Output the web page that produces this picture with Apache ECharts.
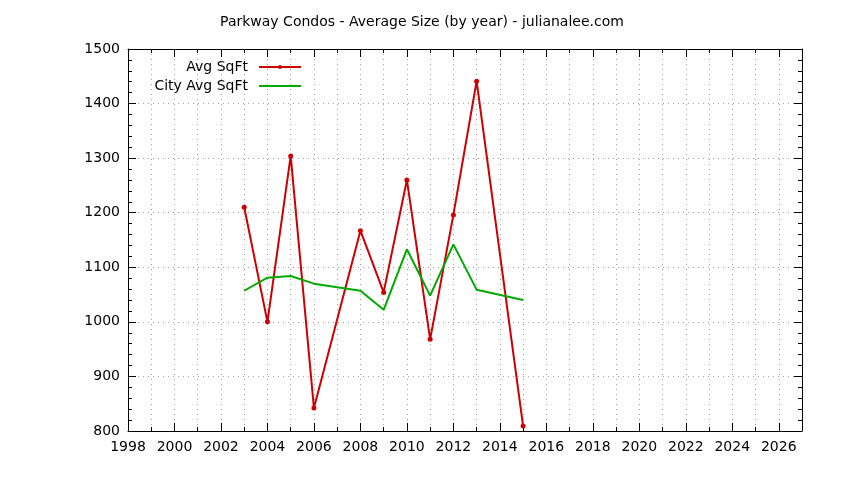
<!DOCTYPE html>
<html>
<head>
<meta charset="utf-8">
<script src="https://cdn.jsdelivr.net/npm/echarts@6/dist/echarts.min.js"></script>
<style>html,body{margin:0;padding:0;background:#fff}#c{width:844px;height:480px}</style>
</head>
<body>
<div id="c"></div>
<script>
var years = [2003, 2004, 2005, 2006, 2008, 2009, 2010, 2011, 2012, 2013, 2015];
var avgSqFt = [1210, 1000, 1304, 842, 1167, 1054, 1260, 968, 1196, 1441, 809];
var cityAvgSqFt = [1057, 1081, 1084, 1070, 1057, 1022, 1133, 1048, 1142, 1059, 1040];
var titleText = 'Parkway Condos - Average Size (by year) - julianalee.com';
var seriesNames = ['Avg SqFt', 'City Avg SqFt'];

function pairs(xs, ys) { return xs.map(function (x, i) { return [x, ys[i]]; }); }

var font = 'DejaVu Sans';
var gridDot = { show: true, lineStyle: { color: '#a0a0a0', type: [1, 4], width: 1 } };
var legendText = { fontFamily: font, fontSize: 14, color: '#000', padding: [0, 6, 0, 0] };
var chart = echarts.init(document.getElementById('c'), null, { renderer: 'canvas' });
chart.setOption({
  animation: false,
  backgroundColor: '#fff',
  title: { text: titleText, left: 'center', top: 10, textStyle: { fontFamily: font, fontSize: 14, fontWeight: 'normal', color: '#000' } },
  legend: [
    { data: [seriesNames[0]], orient: 'vertical', align: 'right', right: 537, top: 55, itemWidth: 42, itemHeight: 5,
      textStyle: legendText },
    { data: [seriesNames[1]], orient: 'vertical', align: 'right', right: 537, top: 74, itemWidth: 42, itemHeight: 10,
      itemStyle: { opacity: 0 }, textStyle: legendText }
  ],
  grid: { left: 128, right: 42, top: 49, bottom: 49, containLabel: false },
  xAxis: [
    { type: 'value', min: 1998, max: 2027, interval: 2, position: 'bottom',
      axisLine: { show: true, lineStyle: { color: '#000', width: 1 } },
      axisTick: { show: true, inside: true, length: 8, lineStyle: { color: '#000' } },
      minorTick: { show: true, splitNumber: 2, length: 4, lineStyle: { color: '#000' } },
      splitLine: gridDot, minorSplitLine: gridDot,
      axisLabel: { fontFamily: font, fontSize: 14, color: '#000', margin: 9,
        formatter: function (v) { return v % 2 === 0 ? String(v) : ''; } } },
    { type: 'value', min: 1998, max: 2027, interval: 2, position: 'top',
      axisLine: { show: true, lineStyle: { color: '#000', width: 1 } },
      axisTick: { show: true, inside: true, length: 8, lineStyle: { color: '#000' } },
      minorTick: { show: true, splitNumber: 2, length: 4, lineStyle: { color: '#000' } },
      splitLine: { show: false }, axisLabel: { show: false } }
  ],
  yAxis: [
    { type: 'value', min: 800, max: 1500, interval: 100, position: 'left',
      axisLine: { show: true, lineStyle: { color: '#000', width: 1 } },
      axisTick: { show: true, inside: true, length: 8, lineStyle: { color: '#000' } },
      minorTick: { show: true, splitNumber: 5, length: 4, lineStyle: { color: '#000' } },
      splitLine: gridDot,
      axisLabel: { fontFamily: font, fontSize: 14, color: '#000', margin: 8,
        formatter: function (v) { return String(v); } } },
    { type: 'value', min: 800, max: 1500, interval: 100, position: 'right',
      axisLine: { show: true, lineStyle: { color: '#000', width: 1 } },
      axisTick: { show: true, inside: true, length: 8, lineStyle: { color: '#000' } },
      minorTick: { show: true, splitNumber: 5, length: 4, lineStyle: { color: '#000' } },
      splitLine: { show: false }, axisLabel: { show: false } }
  ],
  series: [
    { name: seriesNames[0], type: 'line', xAxisIndex: 0, yAxisIndex: 0, data: pairs(years, avgSqFt),
      symbol: 'circle', symbolSize: 5, showSymbol: true,
      lineStyle: { color: '#cc0000', width: 2 }, itemStyle: { color: '#cc0000' } },
    { name: seriesNames[1], type: 'line', xAxisIndex: 0, yAxisIndex: 0, data: pairs(years, cityAvgSqFt),
      symbol: 'none',
      lineStyle: { color: '#00aa00', width: 2 }, itemStyle: { color: '#00aa00' } }
  ]
});
</script>
</body>
</html>
